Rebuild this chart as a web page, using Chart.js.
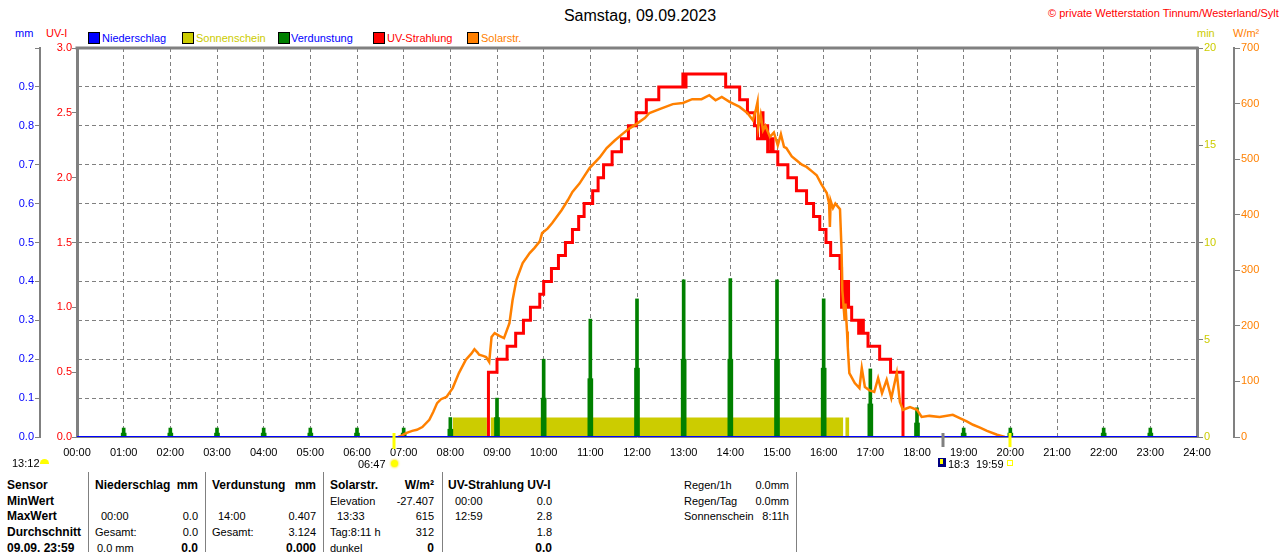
<!DOCTYPE html>
<html lang="de"><head>
<meta charset="utf-8"/>
<title>Samstag, 09.09.2023</title>
<script src="https://cdn.jsdelivr.net/npm/chart.js"></script>
<style>
  body { margin: 0; width: 1280px; height: 552px; overflow: hidden; background: #fff; position: relative;
         font-family: 'Liberation Sans', Arial, sans-serif; font-size: 11px; color: #000; }
  .t { position: absolute; white-space: nowrap; line-height: 14px; height: 14px; }
  .b { font-weight: bold; font-size: 12px; }
  #wrap { position: absolute; left: 0; top: 0; width: 1280px; height: 470px; }
  .sq { position: absolute; top: 32px; width: 10px; height: 10px; border: 1px solid #000; }
  .sep { position: absolute; top: 472px; width: 1px; height: 80px; background: #808080; }
</style>
</head>
<body>
<div class="t" style="left:0;width:1280px;top:7px;height:18px;line-height:18px;text-align:center;font-size:16px;">Samstag, 09.09.2023</div>
<div class="t" style="left:1048px;top:6px;color:#ff0000;">© private Wetterstation Tinnum/Westerland/Sylt</div>

<div class="t" style="left:15px;top:26px;color:#0000ff;">mm</div>
<div class="t" style="left:46px;top:26px;color:#ff0000;">UV-I</div>
<div class="t" style="left:1197px;top:26px;color:#cccc00;">min</div>
<div class="t" style="left:1233px;top:26px;color:#ff8000;">W/m²</div>

<div class="sq" style="left:88px;background:#0000ff;"></div><div class="t" style="left:102px;top:31px;color:#0000ff;">Niederschlag</div>
<div class="sq" style="left:182px;background:#cccc00;"></div><div class="t" style="left:196px;top:31px;color:#cccc00;">Sonnenschein</div>
<div class="sq" style="left:278px;background:#008000;"></div><div class="t" style="left:291px;top:31px;color:#0000ff;">Verdunstung</div>
<div class="sq" style="left:373px;background:#ff0000;"></div><div class="t" style="left:387px;top:31px;color:#ff0000;">UV-Strahlung</div>
<div class="sq" style="left:467px;background:#ff8000;"></div><div class="t" style="left:481px;top:31px;color:#ff8000;">Solarstr.</div>

<div id="wrap"><canvas id="chart"></canvas></div>

<div class="t" style="left:12px;top:456px;">13:12</div>
<div style="position:absolute;left:40px;top:459px;width:9px;height:5px;background:#ffff00;border-radius:5px 5px 0 0;"></div>
<div class="t" id="riseLbl" style="top:457px;">06:47</div>
<div id="riseIcon" style="position:absolute;top:460px;width:7px;height:7px;background:#ffff00;border-radius:50%;box-shadow:0 0 2px 1px #ffee66;"></div>
<div id="moonIcon" style="position:absolute;top:458px;width:8px;height:9px;background:#000080;"><div style="margin:1px 0 0 2px;width:3px;height:5px;background:#ffff00;"></div></div>
<div class="t" id="moonLbl" style="top:457px;">18:3</div>
<div class="t" id="setLbl" style="top:457px;background:#fff;padding-left:2px;">19:59</div>
<div id="setIcon" style="position:absolute;top:460px;width:4px;height:4px;border:1px solid #ffff00;"></div>

<div class="sep" style="left:88px;"></div>
<div class="sep" style="left:205px;"></div>
<div class="sep" style="left:323px;"></div>
<div class="sep" style="left:442px;"></div>
<div class="sep" style="left:796px;"></div>
<div id="table"></div>

<script>
        // time helper: 'HH:MM' -> hours
        const hm = s => { const [h, m] = s.split(':').map(Number); return h + m / 60; };

        const sunrise = '06:47';
        const sunset = '19:59';
        const moonrise = '18:33';

        const niederTimes = ['00:00', '24:00'];
        const niederValues = [0, 0];

        // Verdunstung (mm), one bar per hour plus the lower partial step just before it
        const verdHours = [1, 2, 3, 4, 5, 6, 7, 8, 9, 10, 11, 12, 13, 14, 15, 16, 17, 18, 19, 20, 22, 23];
        const verdValues = [0.023, 0.023, 0.023, 0.023, 0.023, 0.023, 0.023, 0.05, 0.1, 0.2, 0.303, 0.355, 0.404, 0.407, 0.404, 0.355, 0.175, 0.075, 0.023, 0.023, 0.023, 0.023];
        const verdPart = [0.01, 0.01, 0.01, 0.01, 0.01, 0.01, 0.01, 0.02, 0.05, 0.1, 0.15, 0.177, 0.2, 0.2, 0.2, 0.177, 0.085, 0.036, 0.01, 0.01, 0.01, 0.01];

        // Sonnenschein (min)
        const sunTimes = ['08:03', '08:47', '08:52', '16:25', '16:28', '16:33'];
        const sunValues = [1, 0, 1, 0, 1, 0];

        // UV-Strahlung (UV-I), stepped
        const uvTimes = ['08:49', '08:49', '09:00', '09:13', '09:24', '09:34', '09:43', '09:55', '10:00', '10:10',
            '10:19', '10:28', '10:37', '10:45', '10:52', '11:03', '11:10', '11:17', '11:28', '11:40',
            '11:49', '11:59', '12:12', '12:28', '12:59', '13:01', '13:03', '13:54', '14:12', '14:22',
            '14:31', '14:35', '14:40', '14:42', '14:45', '14:48', '14:52', '14:55', '15:01', '15:14',
            '15:25', '15:38', '15:47', '15:55', '16:03', '16:09', '16:21', '16:23', '16:25', '16:27',
            '16:29', '16:32', '16:36', '16:45', '16:48', '16:51', '16:57', '17:12', '17:26', '17:42'];
        const uvValues = [0, 0.5, 0.6, 0.7, 0.8, 0.9, 1.0, 1.1, 1.2, 1.3,
            1.4, 1.5, 1.6, 1.7, 1.8, 1.9, 2.0, 2.1, 2.2, 2.3,
            2.4, 2.5, 2.6, 2.7, 2.8, 2.7, 2.8, 2.7, 2.6, 2.5,
            2.4, 2.3, 2.5, 2.3, 2.4, 2.2, 2.3, 2.2, 2.1, 2.0,
            1.9, 1.8, 1.7, 1.6, 1.5, 1.4, 1.3, 1.0, 1.2, 1.0,
            1.2, 1.0, 0.9, 0.8, 0.9, 0.8, 0.7, 0.6, 0.5, 0.0];

        // Solarstrahlung (W/m²)
        const solarTimes = ['06:53', '06:58', '07:03', '07:11', '07:17', '07:24', '07:33', '07:38', '07:43', '07:48',
            '07:55', '08:03', '08:11', '08:20', '08:27', '08:31', '08:35', '08:37', '08:42', '08:46',
            '08:50', '08:53', '08:57', '09:03', '09:09', '09:16', '09:20', '09:25', '09:33', '09:42',
            '09:48', '09:55', '09:58', '10:05', '10:11', '10:23', '10:31', '10:37', '10:46', '10:59',
            '11:12', '11:21', '11:31', '11:41', '11:50', '11:59', '12:10', '12:16', '12:29', '12:46',
            '12:59', '13:11', '13:23', '13:33', '13:41', '13:49', '13:59', '14:12', '14:22', '14:29',
            '14:33', '14:35', '14:36', '14:39', '14:42', '14:45', '14:51', '14:56', '15:01', '15:05',
            '15:09', '15:12', '15:19', '15:25', '15:32', '15:38', '15:45', '15:51', '15:57', '16:04',
            '16:07', '16:08', '16:09', '16:12', '16:15', '16:18', '16:21', '16:23', '16:24', '16:27',
            '16:28', '16:30', '16:31', '16:33', '16:40', '16:46', '16:49', '16:53', '16:59', '17:05',
            '17:10', '17:15', '17:21', '17:27', '17:34', '17:38', '17:42', '17:51', '18:00', '18:06',
            '18:16', '18:29', '18:46', '18:55', '19:04', '19:12', '19:21', '19:30', '19:43', '19:53'];
        const solarValues = [0, 3, 7, 11, 13, 18, 31, 45, 61, 68,
            72, 88, 115, 139, 150, 158, 152, 148, 146, 144,
            135, 180, 187, 182, 178, 205, 246, 283, 313, 331,
            340, 352, 367, 375, 385, 408, 426, 441, 456, 484,
            503, 520, 533, 545, 555, 563, 574, 583, 590, 599,
            601, 608, 608, 615, 606, 612, 603, 594, 583, 570,
            590, 603, 558, 580, 552, 560, 540, 548, 525, 545,
            522, 520, 505, 498, 490, 486, 478, 471, 455, 439,
            420, 378, 425, 412, 420, 415, 410, 336, 264, 210,
            240, 190, 162, 115, 97, 88, 124, 90, 84, 81,
            106, 79, 103, 70, 115, 63, 49, 54, 49, 36,
            38, 36, 40, 34, 28, 22, 17, 11, 4, 0];

        const pts = (times, values) => times.map((s, i) => ({ x: hm(s), y: values[i] }));
        const hourPts = (hours, values) => hours.map((h, i) => ({ x: h, y: values[i] }));

        Chart.defaults.font.family = "'Liberation Sans', Arial, sans-serif";
        Chart.defaults.font.size = 11;

        const grey = '#808080';

        // top frame line plus sunrise / moonrise / sunset marks under the time axis
        const framePlugin = {
            id: 'frame',
            afterDraw(c) {
                const { ctx, chartArea: a, scales: { x } } = c;
                ctx.save();
                ctx.strokeStyle = grey;
                ctx.lineWidth = 3;
                ctx.beginPath();
                ctx.moveTo(a.left - 1.5, a.top);
                ctx.lineTo(a.right + 1.5, a.top);
                ctx.stroke();
                const mark = (t, color, len) => {
                    const px = Math.round(x.getPixelForValue(hm(t)));
                    ctx.strokeStyle = color;
                    ctx.lineWidth = 3;
                    ctx.beginPath();
                    ctx.moveTo(px, a.bottom - 4);
                    ctx.lineTo(px, a.bottom + len);
                    ctx.stroke();
                    return px;
                };
                const rx = mark(sunrise, '#ffff00', 12);
                const mx = mark(moonrise, grey, 10);
                const sx = mark(sunset, '#ffff00', 10);
                ctx.restore();
                const riseLbl = document.getElementById('riseLbl');
                riseLbl.style.left = (rx - 8 - riseLbl.offsetWidth) + 'px';
                document.getElementById('riseIcon').style.left = (rx - 3) + 'px';
                document.getElementById('moonIcon').style.left = (mx - 5) + 'px';
                document.getElementById('moonLbl').style.left = (mx + 5) + 'px';
                const setLbl = document.getElementById('setLbl');
                setLbl.style.left = (sx - 6 - setLbl.offsetWidth) + 'px';
                document.getElementById('setIcon').style.left = (sx - 3) + 'px';
            }
        };

        new Chart(document.getElementById('chart'), {
            type: 'line',
            data: {
                datasets: [
                    { label: 'Niederschlag', data: pts(niederTimes, niederValues), yAxisID: 'yMM',
                      borderColor: '#0000ff', borderWidth: 2, pointRadius: 0, order: 0 },
                    { label: 'Solarstr.', data: pts(solarTimes, solarValues), yAxisID: 'yW',
                      borderColor: '#ff8000', borderWidth: 2.5, pointRadius: 0, order: 1 },
                    { label: 'UV-Strahlung', data: pts(uvTimes, uvValues), yAxisID: 'yUV', stepped: 'before',
                      borderColor: '#ff0000', borderWidth: 3, pointRadius: 0, order: 2 },
                    { type: 'bar', label: 'Verdunstung', data: hourPts(verdHours, verdValues), yAxisID: 'yMM',
                      backgroundColor: '#008000', barThickness: 3, grouped: false, order: 3 },
                    { type: 'bar', label: 'Verdunstung', data: hourPts(verdHours, verdPart), yAxisID: 'yMM',
                      backgroundColor: '#008000', barThickness: 5, grouped: false, order: 3 },
                    { label: 'Sonnenschein', data: pts(sunTimes, sunValues), yAxisID: 'yMin', stepped: 'before',
                      fill: 'origin', backgroundColor: '#cccc00', borderColor: 'rgba(0,0,0,0)', borderWidth: 0,
                      pointRadius: 0, order: 4 }
                ]
            },
            options: {
                responsive: true,
                maintainAspectRatio: false,
                animation: false,
                events: [],
                layout: { padding: { top: 48, bottom: 1.8, left: 0, right: 0 } },
                plugins: { legend: { display: false }, tooltip: { enabled: false } },
                scales: {
                    x: {
                        type: 'linear', min: 0, max: 24, offset: false,
                        ticks: { stepSize: 1, color: '#000', padding: 9, maxRotation: 0, autoSkip: false,
                                 callback: v => String(v).padStart(2, '0') + ':00' },
                        grid: { color: grey, drawTicks: false, offset: false },
                        border: { color: grey, width: 1, dash: [4, 3] }
                    },
                    yMM: {
                        position: 'left', weight: 1, min: 0, max: 1,
                        ticks: { stepSize: 0.1, color: '#0000ff', padding: 1,
                                 callback: v => v > 0.95 ? '' : v.toFixed(1) },
                        grid: { color: grey, tickLength: 5 },
                        border: { color: grey, width: 2, dash: [4, 3] },
                        afterFit: s => { s.width = 40; }
                    },
                    yUV: {
                        position: 'left', weight: 0, min: 0, max: 3,
                        ticks: { stepSize: 0.5, color: '#ff0000', padding: 0, callback: v => v.toFixed(1) },
                        grid: { drawOnChartArea: false, color: grey, tickLength: 5 },
                        border: { color: grey, width: 3 },
                        afterFit: s => { s.width = 37; }
                    },
                    yMin: {
                        position: 'right', weight: 0, min: 0, max: 20,
                        ticks: { stepSize: 5, color: '#cccc00', padding: 1 },
                        grid: { drawOnChartArea: false, color: grey, tickLength: 6 },
                        border: { color: grey, width: 3 },
                        afterFit: s => { s.width = 37; }
                    },
                    yW: {
                        position: 'right', weight: 1, min: 0, max: 700,
                        ticks: { stepSize: 100, color: '#ff8000', padding: 1 },
                        grid: { drawOnChartArea: false, color: grey, tickLength: 6 },
                        border: { color: grey, width: 2 },
                        afterFit: s => { s.width = 46; }
                    }
                }
            },
            plugins: [framePlugin]
        });

        // table below the chart: [text, x, y, align, bold]
        const cells = [
            ['Sensor', 7, 485, 'l', 1], ['MinWert', 7, 501, 'l', 1], ['MaxWert', 7, 516, 'l', 1],
            ['Durchschnitt', 7, 532, 'l', 1], ['09.09.  23:59', 7, 548, 'l', 1],
            ['Niederschlag', 95, 485, 'l', 1], ['mm', 198, 485, 'r', 1],
            ['00:00', 101, 516, 'l', 0], ['0.0', 198, 516, 'r', 0],
            ['Gesamt:', 95, 532, 'l', 0], ['0.0', 198, 532, 'r', 0],
            ['0.0 mm', 97, 548, 'l', 0], ['0.0', 198, 548, 'r', 1],
            ['Verdunstung', 212, 485, 'l', 1], ['mm', 316, 485, 'r', 1],
            ['14:00', 218, 516, 'l', 0], ['0.407', 316, 516, 'r', 0],
            ['Gesamt:', 212, 532, 'l', 0], ['3.124', 316, 532, 'r', 0],
            ['0.000', 316, 548, 'r', 1],
            ['Solarstr.', 330, 485, 'l', 1], ['W/m²', 434, 485, 'r', 1],
            ['Elevation', 330, 501, 'l', 0], ['-27.407', 434, 501, 'r', 0],
            ['13:33', 337, 516, 'l', 0], ['615', 434, 516, 'r', 0],
            ['Tag:8:11 h', 330, 532, 'l', 0], ['312', 434, 532, 'r', 0],
            ['dunkel', 330, 548, 'l', 0], ['0', 434, 548, 'r', 1],
            ['UV-Strahlung UV-I', 448, 485, 'l', 1],
            ['00:00', 455, 501, 'l', 0], ['0.0', 552, 501, 'r', 0],
            ['12:59', 455, 516, 'l', 0], ['2.8', 552, 516, 'r', 0],
            ['1.8', 552, 532, 'r', 0],
            ['0.0', 552, 548, 'r', 1],
            ['Regen/1h', 684, 485, 'l', 0], ['0.0mm', 789, 485, 'r', 0],
            ['Regen/Tag', 684, 501, 'l', 0], ['0.0mm', 789, 501, 'r', 0],
            ['Sonnenschein', 684, 516, 'l', 0], ['8:11h', 789, 516, 'r', 0]
        ];
        const table = document.getElementById('table');
        cells.forEach(([text, x, y, align, bold]) => {
            const d = document.createElement('div');
            d.className = 't' + (bold ? ' b' : '');
            d.textContent = text;
            d.style.top = (y - 7) + 'px';
            if (align === 'r') d.style.right = (1280 - x) + 'px';
            else d.style.left = x + 'px';
            table.appendChild(d);
        });
    </script>
</body></html>
